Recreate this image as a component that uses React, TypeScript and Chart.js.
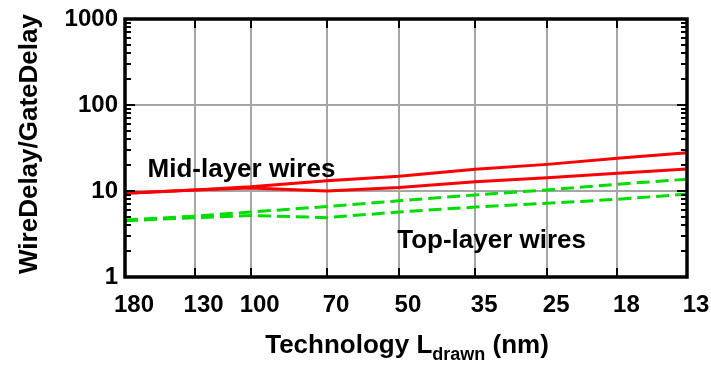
import React, { useEffect, useRef } from "react";
import { Chart, registerables } from "chart.js";

Chart.register(...registerables);

// Technology nodes (drawn gate length, nm)
const TECH_NODES = [180, 130, 100, 70, 50, 35, 25, 18, 13];
// Wire delay / gate delay ratios
const MID_LAYER_A = [9.4, 10.3, 11.2, 13.2, 14.8, 17.9, 20.4, 24.0, 27.9];
const MID_LAYER_B = [9.4, 10.3, 10.8, 10.0, 11.0, 12.8, 14.3, 16.1, 18.0];
const TOP_LAYER_A = [4.6, 5.1, 5.7, 6.6, 7.7, 9.0, 10.3, 12.0, 13.7];
const TOP_LAYER_B = [4.5, 4.9, 5.2, 4.9, 5.7, 6.5, 7.2, 8.0, 9.2];
const Y_TICKS = [1, 10, 100, 1000];

// Inline labels, anchored in data coordinates (left edge, baseline)
const LABEL_TEXT = ["Mid-layer wires", "Top-layer wires"];
const LABEL_X = [162, 50.4];
const LABEL_Y = [14.7, 2.2];

const FONT = "'Liberation Sans', Arial, sans-serif";
const RED = "#ff0000";
const GREEN = "#00dd00";
const GRID = "#a6a6a6";

const series = (vals: number[]) => TECH_NODES.map((x, i) => ({ x, y: vals[i] }));

const framePlugin = {
  id: "frameAndTicks",
  afterDraw(chart: any) {
    const { ctx, chartArea: a, scales } = chart;
    const xs = scales.x;
    const ys = scales.y;
    ctx.save();
    ctx.strokeStyle = "#000";
    ctx.lineWidth = 2;
    // y ticks: majors and minors on both sides, pointing inward
    for (let d = 1; d < 1000; d *= 10) {
      for (let k = 1; k <= 9; k++) {
        const v = d * k;
        const py = Math.round(ys.getPixelForValue(v));
        const len = k === 1 ? 10 : 6;
        ctx.beginPath();
        ctx.moveTo(a.left, py);
        ctx.lineTo(a.left + len, py);
        ctx.moveTo(a.right, py);
        ctx.lineTo(a.right - len, py);
        ctx.stroke();
      }
    }
    // x ticks top and bottom
    TECH_NODES.forEach((v) => {
      const px = Math.round(xs.getPixelForValue(v));
      ctx.beginPath();
      ctx.moveTo(px, a.top);
      ctx.lineTo(px, a.top + 9);
      ctx.moveTo(px, a.bottom);
      ctx.lineTo(px, a.bottom - 9);
      ctx.stroke();
    });
    // frame
    ctx.lineWidth = 3.5;
    ctx.strokeRect(a.left, a.top, a.right - a.left, a.bottom - a.top);

    // inline series labels
    ctx.fillStyle = "#000";
    ctx.font = `bold 26px ${FONT}`;
    ctx.textAlign = "left";
    ctx.textBaseline = "alphabetic";
    LABEL_TEXT.forEach((t, i) => {
      ctx.fillText(t, xs.getPixelForValue(LABEL_X[i]), ys.getPixelForValue(LABEL_Y[i]));
    });

    // y axis title
    ctx.save();
    ctx.translate(37, (a.top + a.bottom) / 2 - 4);
    ctx.rotate(-Math.PI / 2);
    ctx.textAlign = "center";
    ctx.font = `bold 26px ${FONT}`;
    ctx.fillText("WireDelay/GateDelay", 0, 0);
    ctx.restore();

    // x axis title with subscript
    const main1 = "Technology L";
    const sub = "drawn";
    const main2 = " (nm)";
    const bigFont = `bold 26px ${FONT}`;
    const subFont = `bold 18px ${FONT}`;
    ctx.font = bigFont;
    const w1 = ctx.measureText(main1).width;
    const w3 = ctx.measureText(main2).width;
    ctx.font = subFont;
    const w2 = ctx.measureText(sub).width;
    const total = w1 + w2 + w3;
    const cx = 407;
    const base = 353;
    const x0 = cx - total / 2;
    ctx.font = bigFont;
    ctx.fillText(main1, x0, base);
    ctx.font = subFont;
    ctx.fillText(sub, x0 + w1, base + 7);
    ctx.font = bigFont;
    ctx.fillText(main2, x0 + w1 + w2, base);
    ctx.restore();
  },
};

export default function App() {
  const ref = useRef<HTMLCanvasElement>(null);

  useEffect(() => {
    document.body.style.margin = "0";
    const canvas = ref.current;
    if (!canvas) return;
    const chart = new Chart(canvas, {
      type: "line",
      data: {
        datasets: [
          { data: series(MID_LAYER_A), borderColor: RED, borderWidth: 3, pointRadius: 0, fill: false },
          { data: series(MID_LAYER_B), borderColor: RED, borderWidth: 3, pointRadius: 0, fill: false },
          { data: series(TOP_LAYER_A), borderColor: GREEN, borderWidth: 3, borderDash: [13, 6], pointRadius: 0, fill: false },
          { data: series(TOP_LAYER_B), borderColor: GREEN, borderWidth: 3, borderDash: [13, 6], pointRadius: 0, fill: false },
        ],
      },
      options: {
        animation: false,
        responsive: false,
        maintainAspectRatio: false,
        layout: { padding: { top: 19, right: 24, left: 0, bottom: 0 } },
        plugins: { legend: { display: false }, tooltip: { enabled: false }, title: { display: false } },
        scales: {
          x: {
            type: "logarithmic",
            reverse: true,
            min: 13,
            max: 180,
            afterBuildTicks: (s: any) => {
              s.ticks = TECH_NODES.map((v) => ({ value: v }));
            },
            afterFit: (s: any) => {
              s.height = 90;
              s.paddingLeft = 0;
              s.paddingRight = 0;
            },
            grid: { color: GRID, lineWidth: 2, drawTicks: false },
            border: { display: false },
            ticks: {
              autoSkip: false,
              maxRotation: 0,
              padding: 14,
              labelOffset: 9,
              color: "#000",
              font: { family: FONT, size: 24, weight: "bold" },
              callback: (v: any) => String(v),
            },
          },
          y: {
            type: "logarithmic",
            min: 1,
            max: 1000,
            afterBuildTicks: (s: any) => {
              s.ticks = Y_TICKS.map((v) => ({ value: v }));
            },
            afterFit: (s: any) => {
              s.width = 125;
              s.paddingTop = 0;
              s.paddingBottom = 0;
            },
            grid: { color: GRID, lineWidth: 2, drawTicks: false },
            border: { display: false },
            ticks: {
              padding: 7,
              color: "#000",
              font: { family: FONT, size: 24, weight: "bold" },
              callback: (v: any) => String(v),
            },
          },
        },
      },
      plugins: [framePlugin],
    });
    return () => chart.destroy();
  }, []);

  return (
    <div style={{ width: 711, height: 367 }}>
      <canvas ref={ref} width={711} height={367} style={{ display: "block" }} />
    </div>
  );
}
